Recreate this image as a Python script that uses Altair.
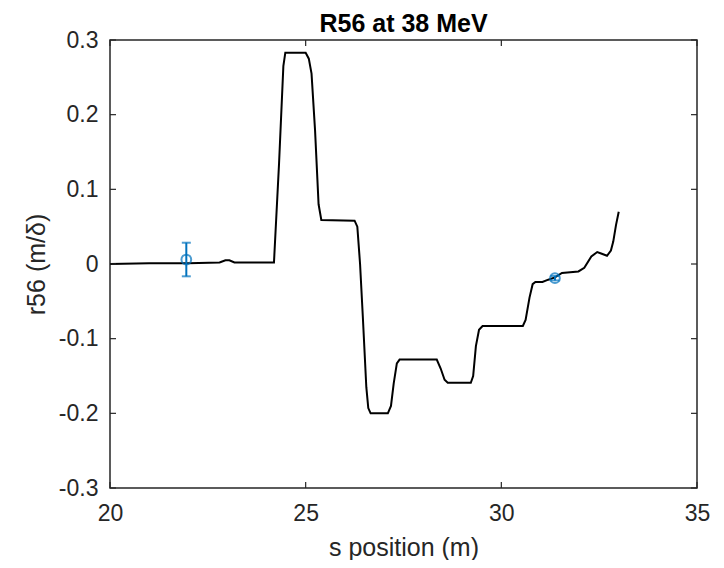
import altair as alt
import pandas as pd

# R56 curve
s_pos = [20.0, 21.0, 22.0, 22.8, 22.95, 23.05, 23.18, 24.0, 24.19, 24.32, 24.43, 24.48,
         25.0, 25.08, 25.15, 25.24, 25.33, 25.4, 26.25, 26.32, 26.39, 26.46, 26.55, 26.6,
         26.66, 27.1, 27.18, 27.25, 27.33, 27.4, 28.35, 28.45, 28.55, 28.63, 29.22, 29.28,
         29.35, 29.43, 29.52, 30.55, 30.62, 30.72, 30.8, 30.87, 31.05, 31.2, 31.37, 31.55,
         31.97, 32.12, 32.3, 32.45, 32.55, 32.7, 32.8, 32.86, 32.93, 33.0]
r56 = [0.000, 0.001, 0.001, 0.002, 0.005, 0.005, 0.002, 0.002, 0.002, 0.135, 0.265, 0.283,
       0.283, 0.275, 0.255, 0.179, 0.080, 0.059, 0.058, 0.050, 0.000, -0.070, -0.165, -0.193,
       -0.200, -0.200, -0.190, -0.160, -0.133, -0.128, -0.128, -0.140, -0.155, -0.159, -0.159, -0.150,
       -0.110, -0.088, -0.083, -0.083, -0.075, -0.045, -0.027, -0.024, -0.024, -0.021, -0.018, -0.012,
       -0.010, -0.005, 0.010, 0.016, 0.014, 0.011, 0.018, 0.030, 0.052, 0.070]

# measured points with error bars
meas_s = [21.95, 31.37]
meas_r56 = [0.006, -0.019]
meas_err = [0.0225, 0.003]

x_ticks = [20, 25, 30, 35]
y_ticks = [-0.3, -0.2, -0.1, 0, 0.1, 0.2, 0.3]

curve = pd.DataFrame({"s": s_pos, "r56": r56})
meas = pd.DataFrame({"s": meas_s, "r56": meas_r56,
                     "lo": [v - e for v, e in zip(meas_r56, meas_err)],
                     "hi": [v + e for v, e in zip(meas_r56, meas_err)]})
xt = pd.DataFrame({"t": x_ticks})
yt = pd.DataFrame({"t": y_ticks})

W, H = 587, 448
TXT = "#262626"
BLUE = "#0072BD"
FONT = "Liberation Sans"

xscale = alt.Scale(domain=[20, 35], nice=False, zero=False)
yscale = alt.Scale(domain=[-0.3, 0.3], nice=False, zero=False)

xaxis = alt.Axis(values=x_ticks, title="s position (m)", ticks=False, domain=False, grid=False,
                 labelFontSize=23, titleFontSize=25, labelPadding=14, titlePadding=10,
                 labelFont=FONT, titleFont=FONT, labelColor=TXT, titleColor=TXT,
                 titleFontWeight="normal", labelFlush=False)
yaxis = alt.Axis(values=y_ticks, title="r56 (m/δ)", ticks=False, domain=False, grid=False,
                 labelFontSize=23, titleFontSize=25, labelPadding=12, titlePadding=9,
                 labelFont=FONT, titleFont=FONT, labelColor=TXT, titleColor=TXT,
                 titleFontWeight="normal", labelFlush=False,
                 labelExpr="toString(datum.value)")

line = alt.Chart(curve).mark_line(color="black", strokeWidth=2).encode(
    x=alt.X("s:Q", scale=xscale, axis=xaxis),
    y=alt.Y("r56:Q", scale=yscale, axis=yaxis),
)

ebar = alt.Chart(meas).mark_rule(color=BLUE, strokeWidth=2).encode(
    x=alt.X("s:Q", scale=xscale), y=alt.Y("lo:Q", scale=yscale), y2="hi:Q")
cap_lo = alt.Chart(meas).mark_tick(color=BLUE, orient="horizontal", size=9, thickness=2).encode(
    x=alt.X("s:Q", scale=xscale), y=alt.Y("lo:Q", scale=yscale))
cap_hi = alt.Chart(meas).mark_tick(color=BLUE, orient="horizontal", size=9, thickness=2).encode(
    x=alt.X("s:Q", scale=xscale), y=alt.Y("hi:Q", scale=yscale))
pts = alt.Chart(meas).mark_point(color=BLUE, shape="circle", filled=False, size=95,
                                 strokeWidth=2).encode(
    x=alt.X("s:Q", scale=xscale), y=alt.Y("r56:Q", scale=yscale))

TL = 6
xt_bot = alt.Chart(xt).mark_rule(color=TXT, strokeWidth=1.2).encode(
    x=alt.X("t:Q", scale=xscale), y=alt.value(H), y2=alt.value(H - TL))
xt_top = alt.Chart(xt).mark_rule(color=TXT, strokeWidth=1.2).encode(
    x=alt.X("t:Q", scale=xscale), y=alt.value(0), y2=alt.value(TL))
yt_left = alt.Chart(yt).mark_rule(color=TXT, strokeWidth=1.2).encode(
    y=alt.Y("t:Q", scale=yscale), x=alt.value(0), x2=alt.value(TL))
yt_right = alt.Chart(yt).mark_rule(color=TXT, strokeWidth=1.2).encode(
    y=alt.Y("t:Q", scale=yscale), x=alt.value(W), x2=alt.value(W - TL))

chart = alt.layer(line, ebar, cap_lo, cap_hi, pts, xt_bot, xt_top, yt_left, yt_right).properties(
    width=W, height=H,
    background="white",
    title=alt.TitleParams("R56 at 38 MeV", fontSize=25, font=FONT, fontWeight="bold",
                          color="black", anchor="middle", offset=-8),
    autosize=alt.AutoSizeParams(type="none"),
    padding={"left": 102, "top": 32, "right": 17, "bottom": 72},
).configure_view(stroke=TXT, strokeWidth=1.5)

chart.save("out.html", embed_options={"renderer": "svg", "actions": False})
